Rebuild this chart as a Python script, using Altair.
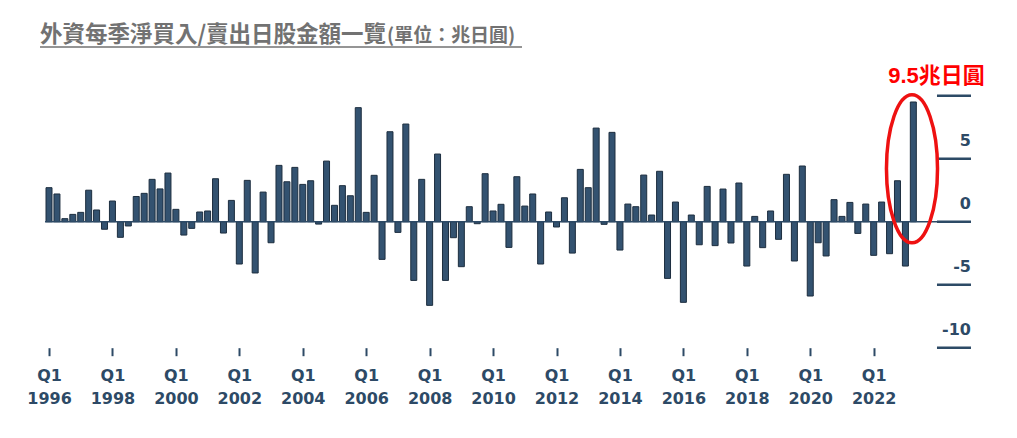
import altair as alt
import pandas as pd

# Foreign investors' net buying (+) / selling (-) of Japanese stocks, trillion yen, per quarter
start_year = 1996
quarter_names = ["Q1", "Q2", "Q3", "Q4"]
net_buy = [
    2.7, 2.2, 0.24, 0.58, 0.74, 2.5, 0.93, -0.6, 1.64, -1.24,
    -0.34, 2.0, 2.25, 3.36, 2.6, 3.86, 0.98, -1.06, -0.53, 0.77,
    0.85, 3.41, -0.9, 1.69, -3.36, 3.28, -4.07, 2.35, -1.67, 4.47,
    3.17, 4.31, 2.96, 3.25, -0.19, 4.81, 1.3, 2.86, 2.06, 9.05,
    0.74, 3.68, -2.99, 7.14, -0.85, 7.75, -4.66, 3.36, -6.64, 5.37,
    -4.66, -1.27, -3.57, 1.19, -0.16, 3.81, 0.85, 1.38, -2.04, 3.57,
    1.24, 2.2, -3.36, 0.77, -0.42, 1.9, -2.49, 4.15, 2.7, 7.43,
    -0.21, 7.09, -2.25, 1.4, 1.19, 3.7, 0.53, 4.0, -4.5, 1.56,
    -6.4, 0.53, -1.83, 2.8, -1.9, 2.59, -1.69, 3.07, -3.52, 0.42,
    -2.06, 0.85, -1.4, 3.76, -3.12, 4.42, -5.9, -1.67, -2.72, 1.75,
    0.42, 1.53, -0.93, 1.4, -2.67, 1.56, -2.54, 3.25, -3.52, 9.5,
]
y_ticks = [10, 5, 0, -5, -10]
y_labels = [5, 0, -5, -10]
title_main = "外資每季淨買入/賣出日股金額一覽"
title_unit = "(單位：兆日圓)"
peak_label = "9.5兆日圓"

n = len(net_buy)
df = pd.DataFrame({
    "idx": list(range(n)),
    "quarter": [f"{quarter_names[i % 4]} {start_year + i // 4}" for i in range(n)],
    "value": net_buy,
})
label_idx = [i for i in range(n) if i % 8 == 0 and i <= 104]

TXT = "#2d4a66"
BAR = "#335270"
W, H = 926, 277.2

x_scale = alt.Scale(domain=[-0.504, 116.27], nice=False, zero=False, padding=0)
y_scale = alt.Scale(domain=[-10, 12], nice=False, zero=False, padding=0)

bars = alt.Chart(df).mark_bar(size=6, fill=BAR, stroke="#1c2d3e", strokeWidth=1).encode(
    x=alt.X("idx:Q", scale=x_scale, title=None,
            axis=alt.Axis(values=label_idx, grid=False, domain=False,
                          tickSize=8, tickWidth=2, tickColor=TXT,
                          labelExpr=f"['Q1', '' + ({start_year} + datum.value / 4)]",
                          labelFont="DejaVu Sans", labelFontSize=16, labelFontWeight="bold",
                          labelColor=TXT, labelPadding=12, labelLineHeight=23,
                          labelBaseline="top", labelFlush=False, labelOverlap=False)),
    y=alt.Y("value:Q", scale=y_scale, axis=None),
    tooltip=["quarter:N", "value:Q"],
)

zero_line = alt.Chart(pd.DataFrame({"v": [0]})).mark_rule(color=TXT, strokeWidth=1.5).encode(
    y=alt.Y("v:Q", scale=y_scale), x=alt.value(0), x2=alt.value(W)
)

tick_df = pd.DataFrame({"v": y_ticks})
right_ticks = alt.Chart(tick_df).mark_rule(color=TXT, strokeWidth=2.5).encode(
    y=alt.Y("v:Q", scale=y_scale), x=alt.value(892), x2=alt.value(W)
)

lab_df = pd.DataFrame({"v": y_labels, "t": [str(v) for v in y_labels]})
right_labels = alt.Chart(lab_df).mark_text(
    align="right", baseline="alphabetic", dy=-12.5, font="DejaVu Sans",
    fontSize=16, fontWeight="bold", color=TXT
).encode(y=alt.Y("v:Q", scale=y_scale), x=alt.value(W), text="t:N")

title1 = alt.Chart(pd.DataFrame({"t": [title_main]})).mark_text(
    align="left", baseline="alphabetic", font="Noto Sans CJK TC", fontSize=22.5,
    fontWeight="bold", color="#727272"
).encode(x=alt.value(-5), y=alt.value(-28), text="t:N")

title2 = alt.Chart(pd.DataFrame({"t": [title_unit]})).mark_text(
    align="left", baseline="alphabetic", font="Noto Sans CJK TC", fontSize=19,
    fontWeight="bold", color="#727272"
).encode(x=alt.value(342), y=alt.value(-28), text="t:N")

underline = alt.Chart(pd.DataFrame({"a": [0]})).mark_rule(color="#727272", strokeWidth=1.5).encode(
    x=alt.value(-5), x2=alt.value(477), y=alt.value(-23.5)
)

peak_text = alt.Chart(pd.DataFrame({"t": [peak_label]})).mark_text(
    align="center", baseline="alphabetic", font="Liberation Sans, Noto Sans CJK TC",
    fontSize=22, fontWeight="bold", color="#ff0000"
).encode(x=alt.value(891.5), y=alt.value(13), text="t:N")

ellipse_path = "M -0.345 0 A 0.345 1 0 1 0 0.345 0 A 0.345 1 0 1 0 -0.345 0 Z"
ellipse = alt.Chart(pd.DataFrame({"a": [0]})).mark_point(
    shape=ellipse_path, size=21904, filled=False, stroke="#ee1111", strokeWidth=3.5, opacity=1
).encode(x=alt.value(867), y=alt.value(98.3))

chart = alt.layer(
    bars, zero_line, right_ticks, right_labels, title1, title2, underline, peak_text, ellipse
).properties(
    width=W, height=H,
    autosize=alt.AutoSizeParams(type="none"),
    padding={"left": 37, "top": 62.5, "right": 30, "bottom": 70},
).configure_view(stroke=None)

chart.save("out.html", embed_options={"renderer": "svg", "actions": False})
